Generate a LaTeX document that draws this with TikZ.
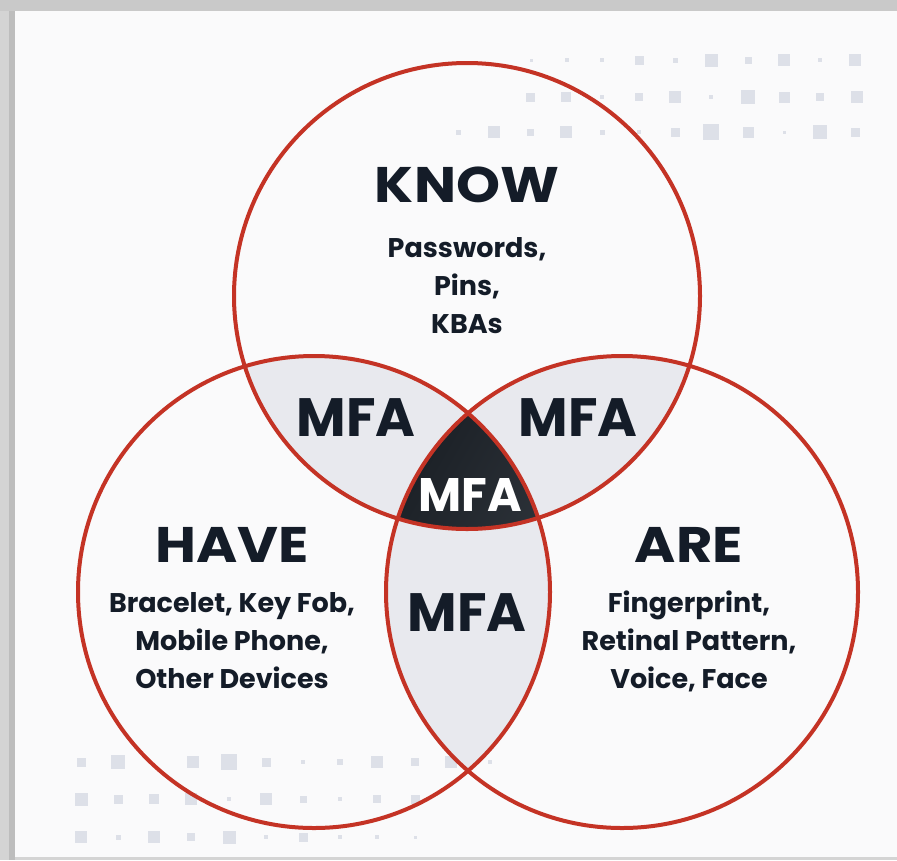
\documentclass[tikz,border=0pt]{standalone}
\usepackage{fontspec}
\setmainfont{Poppins}
\newfontfamily\widepoppins[FakeStretch=1.12]{Poppins}
\usepackage{tikz}

\definecolor{ringred}{HTML}{C43325}
\definecolor{inkblue}{HTML}{141C28}
\definecolor{lensgray}{HTML}{E8E9EE}
\definecolor{dotgray}{HTML}{DDE0E8}
\definecolor{panelwhite}{HTML}{FAFAFB}
\definecolor{coredark}{HTML}{1D2228}
\definecolor{corelight}{HTML}{535A62}

\begin{document}
\begin{tikzpicture}[x=1pt,y=-1pt,
    ring/.style={draw=ringred,line width=4pt},
    lens/.style={fill=lensgray},
    core/.style={left color=coredark,right color=corelight,shading angle=60},
    dotbox/.style={fill=dotgray},
    headtext/.style={text=inkblue,font=\widepoppins\bfseries\fontsize{50}{50}\selectfont,inner sep=0pt},
    subtext/.style={text=inkblue,font=\bfseries\fontsize{27}{38}\selectfont,align=center,inner sep=0pt},
    mfatext/.style={text=inkblue,font=\bfseries\fontsize{54}{54}\selectfont,inner sep=0pt}]
  \useasboundingbox (0,0) rectangle (897,860);
  % frame and panel
  \fill[black!17] (0,0) rectangle (897,860);
  \fill[black!26] (9,0) rectangle (15,860);
  \fill[black!21] (0,0) rectangle (897,11);
  \fill[panelwhite] (15,11) rectangle (897,857);
  % dot grids
  \foreach \x/\s in {531/3,567/4,602/4,639/9,675/5,711/13,748/7,784/12,820/4,855/12}
    \fill[dotbox] (\x,60) ++(-\s/2,-\s/2) rectangle ++(\s,\s);
  \foreach \x/\s in {530/9,566/10,602/4,639/8,675/12,711/4,748/14,784/11,820/8,857/12}
    \fill[dotbox] (\x,97) ++(-\s/2,-\s/2) rectangle ++(\s,\s);
  \foreach \x/\s in {458/5,494/12,530/7,566/12,602/5,639/4,675/9,711/16,748/11,784/3,820/14,855/9}
    \fill[dotbox] (\x,132) ++(-\s/2,-\s/2) rectangle ++(\s,\s);
  \foreach \x/\s in {81/9,118/14,193/12,229/16,266/9,303/4,340/6,377/12,415/8,451/12,490/4}
    \fill[dotbox] (\x,762) ++(-\s/2,-\s/2) rectangle ++(\s,\s);
  \foreach \x/\s in {81/13,118/9,154/10,191/12,229/4,266/12,303/7,340/4,377/8,415/9}
    \fill[dotbox] (\x,799) ++(-\s/2,-\s/2) rectangle ++(\s,\s);
  \foreach \x/\s in {81/12,118/5,154/12,191/8,229/13,266/4,303/9,340/4,377/4,415/3}
    \fill[dotbox] (\x,837) ++(-\s/2,-\s/2) rectangle ++(\s,\s);
  % circle centres
  \coordinate (know) at (467,296);
  \coordinate (have) at (314,592);
  \coordinate (are) at (622,592);
  % pair overlaps
  \begin{scope}
    \clip (know) circle[radius=233];
    \fill[lens] (have) circle[radius=236];
    \fill[lens] (are) circle[radius=236];
  \end{scope}
  \begin{scope}
    \clip (have) circle[radius=236];
    \fill[lens] (are) circle[radius=236];
  \end{scope}
  % triple overlap
  \begin{scope}
    \clip (know) circle[radius=233];
    \clip (have) circle[radius=236];
    \fill[core] (are) circle[radius=236];
  \end{scope}
  % rings
  \draw[ring] (know) circle[radius=233];
  \draw[ring] (have) circle[radius=236];
  \draw[ring] (are) circle[radius=236];
  % labels
  \node[headtext] (knowhead) at (467,185) {KNOW};
  \node[subtext] (knowlist) at (467,286) {Passwords,\\Pins,\\KBAs};
  \node[headtext] (havehead) at (232,545) {HAVE};
  \node[subtext] (havelist) at (232,641) {Bracelet, Key Fob,\\Mobile Phone,\\Other Devices};
  \node[headtext] (arehead) at (689,545) {ARE};
  \node[subtext] (arelist) at (689,641) {Fingerprint,\\Retinal Pattern,\\Voice, Face};
  \node[mfatext] (mfaleft) at (356,418) {MFA};
  \node[mfatext] (mfaright) at (578,418) {MFA};
  \node[mfatext] (mfalow) at (467,613) {MFA};
  \node[mfatext,text=white,font=\bfseries\fontsize{47}{47}\selectfont] (mfacore) at (470,495) {MFA};
\end{tikzpicture}
\end{document}
